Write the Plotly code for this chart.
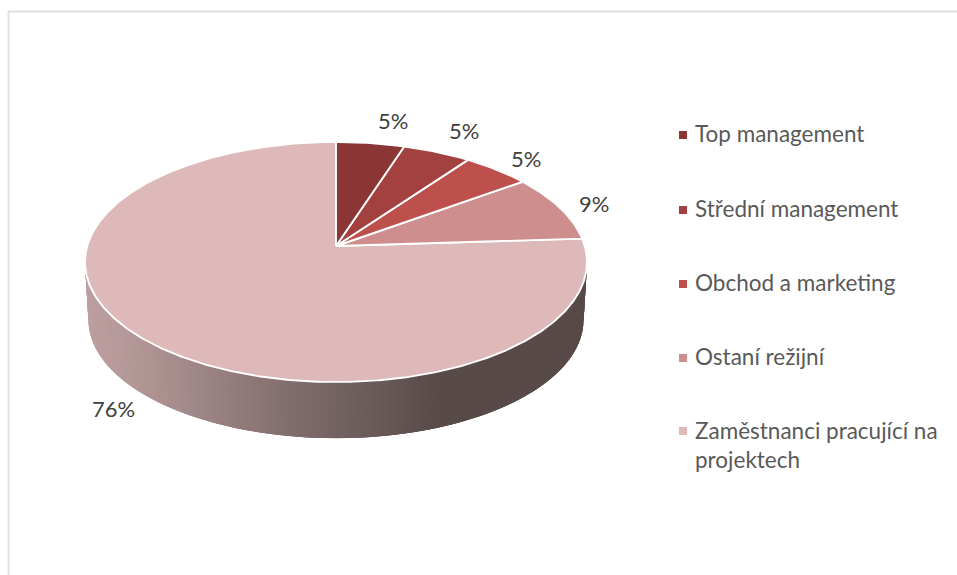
import numpy as np
import plotly.graph_objects as go

categories = ["Top management", "Střední management", "Obchod a marketing", "Ostaní režijní", "Zaměstnanci pracující na<br>projektech"]
shares = [5, 5, 5, 9, 76]
labels = ["5%", "5%", "5%", "9%", "76%"]
colors = ["#8B3535", "#A34040", "#BD4F4C", "#CE8E8D", "#DEB9B9"]

W, H = 957, 575
APEX_X, APEX_Y = 336, 246
S, P, K = 248.8, 117.9, 0.1333
DEPTH, BOTTOM_SCALE = 58, 0.986
LABEL_POS = [(393, 120), (464, 130), (526, 158), (594, 203), (113, 408)]
LEGEND_MARK_X, LEGEND_TEXT_X = 683, 693
LEGEND_Y = [133, 208, 282, 356, 444.5]
LEGEND_MARK_Y = [135, 210, 284, 358, 431]
SIDE_STOPS = [(86, (190, 160, 161)), (150, (176, 148, 148)), (200, (160, 135, 135)), (260, (140, 118, 118)),
              (340, (116, 98, 98)), (400, (100, 85, 85)), (440, (88, 74, 72)), (590, (88, 74, 72))]
FONT = "Lato"


def project(deg, scale=1.0, dy=0.0):
    a = np.radians(deg)
    d = 1 + K * np.cos(a)
    return APEX_X + scale * S * np.sin(a) / d, APEX_Y + dy - scale * P * np.cos(a) / d


def side_color(x):
    xs = [s[0] for s in SIDE_STOPS]
    return "rgb(%d,%d,%d)" % tuple(np.interp(x, xs, [s[1][i] for s in SIDE_STOPS]) for i in range(3))


fig = go.Figure()

# cylinder wall: overlapping thin strips along the front rim, painted from right to left
edges = np.arange(84, 277, 0.8)
for a0, a1 in zip(edges[:-1], edges[1:]):
    a1x = a1 + 1.6
    tx, ty = project(np.array([a0, a1x]))
    bx, by = project(np.array([a1x, a0]), BOTTOM_SCALE, DEPTH)
    c = side_color((tx[0] + bx[1]) / 2)
    fig.add_trace(go.Scatter(x=list(tx) + list(bx) + [tx[0]], y=list(ty) + list(by) + [ty[0]], mode="lines",
                             fill="toself", fillcolor=c, line=dict(width=0),
                             hoverinfo="skip", showlegend=False))

# top face wedges
bounds = np.cumsum([0] + shares) / sum(shares) * 360
for name, c, a0, a1, v in reversed(list(zip(categories, colors, bounds[:-1], bounds[1:], shares))):
    arc = np.linspace(a0, a1, max(8, int(a1 - a0) * 2))
    ax, ay = project(arc)
    fig.add_trace(go.Scatter(x=[APEX_X] + list(ax) + [APEX_X], y=[APEX_Y] + list(ay) + [APEX_Y], mode="lines",
                             fill="toself", fillcolor=c, line=dict(color="white", width=1.9),
                             name=name.replace("<br>", " "), text=f"{v}%", hoverinfo="name+text", showlegend=False))

# legend swatches
fig.add_trace(go.Scatter(x=[LEGEND_MARK_X] * len(colors), y=LEGEND_MARK_Y, mode="markers",
                         marker=dict(symbol="square", size=8, color=colors), hoverinfo="skip", showlegend=False))

anns = []
for t, (x, y) in zip(labels, LABEL_POS):
    anns.append(dict(x=x, y=y, text=t, showarrow=False, xref="x", yref="y",
                     font=dict(family=FONT, size=22, color="#404040")))
for t, y in zip(categories, LEGEND_Y):
    anns.append(dict(x=LEGEND_TEXT_X, y=y, text=t, showarrow=False, xref="x", yref="y", xanchor="left", align="left",
                     font=dict(family=FONT, size=22.5, color="#595959")))

fig.update_layout(
    width=W, height=H, margin=dict(l=0, r=0, t=0, b=0), paper_bgcolor="white", plot_bgcolor="white",
    xaxis=dict(range=[0, W], visible=False, fixedrange=True),
    yaxis=dict(range=[H, 0], visible=False, fixedrange=True),
    annotations=anns, showlegend=False,
    shapes=[dict(type="line", x0=8, x1=W, y0=11.5, y1=11.5, line=dict(color="#E0E0E0", width=2)),
            dict(type="line", x0=8.5, x1=8.5, y0=11, y1=H, line=dict(color="#E0E0E0", width=2))],
)
fig.write_html("out.html", config=dict(displayModeBar=False),
               post_script="document.body.style.margin='0';document.body.style.overflow='hidden';")
